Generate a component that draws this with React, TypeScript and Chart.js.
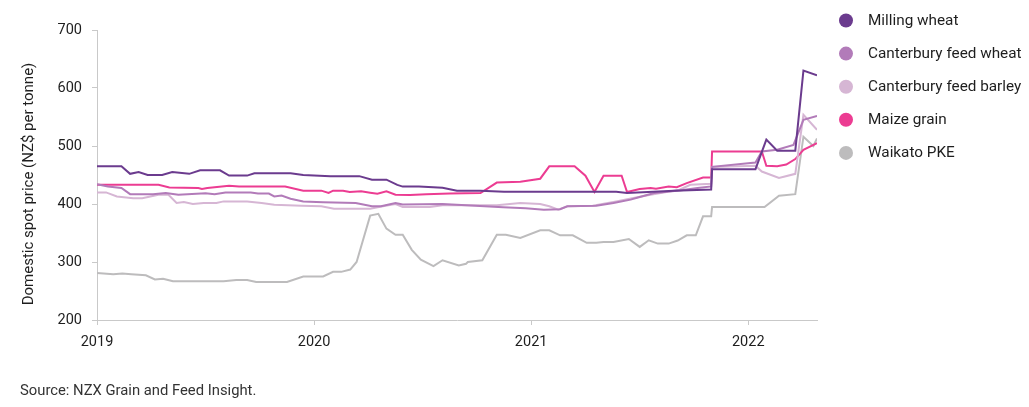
import { useEffect, useRef } from "react";
import { Chart, registerables } from "chart.js";

Chart.register(...registerables);

// x values are months since January 2019
const xTickMonths = [0, 12, 24, 36];
const xTickLabels = ["2019", "2020", "2021", "2022"];
const yTickValues = [200, 300, 400, 500, 600, 700];

const seriesNames = [
  "Milling wheat",
  "Canterbury feed wheat",
  "Canterbury feed barley",
  "Maize grain",
  "Waikato PKE",
];
const seriesColors = ["#6b3b8e", "#b27bb9", "#d6b6d4", "#ec3c92", "#bdbcbd"];

const millingWheatMonths = [0, 1.35, 1.83, 2.3, 2.8, 3.6, 4.16, 5.1, 5.7, 6.8, 7.3, 8.3, 8.7, 10.7, 11.4, 12.9, 14.5, 15.2, 16.0, 16.6, 16.9, 17.8, 19.1, 19.9, 21.2, 22.5, 28.7, 29.3, 31.9, 33.95, 34.0, 36.4, 37.0, 37.6, 38.6, 39.05, 39.8];
const millingWheatPrices = [465, 465, 452, 455, 450, 450, 455, 452, 458, 458, 449, 449, 453, 453, 450, 448, 448, 442, 442, 433, 430, 430, 428, 423, 423, 421, 421, 419, 423, 425, 460, 460, 511, 492, 492, 630, 622];

const feedWheatMonths = [0, 0.6, 1.35, 1.83, 3.1, 3.8, 4.5, 6.0, 6.5, 7.1, 8.5, 8.9, 9.5, 9.8, 10.2, 10.7, 11.4, 12.5, 14.3, 15.2, 15.7, 16.5, 16.9, 19.1, 20.4, 22.45, 23.7, 24.7, 25.6, 26.0, 27.6, 28.55, 29.5, 30.0, 30.8, 32.2, 33.2, 33.95, 34.0, 36.4, 36.75, 37.6, 38.5, 39.05, 39.8];
const feedWheatPrices = [434, 430, 427.5, 417, 417, 419, 416, 418.4, 417, 420, 420, 418, 418, 413, 414.5, 409, 404.5, 403, 401.7, 396, 396, 401.7, 399, 400, 398, 394.3, 392.6, 390.2, 391, 396, 397, 401.7, 407.5, 412, 419, 423.4, 427.5, 430.4, 464, 471.6, 490.6, 493.5, 502, 545, 552];

const feedBarleyMonths = [0, 0.5, 1.1, 2.0, 2.5, 3.4, 3.95, 4.4, 4.8, 5.3, 5.9, 6.6, 7.0, 8.3, 9.1, 9.8, 11.3, 12.4, 13.1, 15.1, 15.8, 16.5, 16.9, 18.4, 19.1, 22.1, 23.4, 24.5, 25.0, 25.5, 26.0, 27.4, 28.7, 29.65, 30.6, 32.2, 32.8, 33.95, 34.0, 36.4, 36.75, 37.7, 38.6, 39.05, 39.8];
const feedBarleyPrices = [420, 420, 413, 410, 410, 416, 416, 401.7, 403.5, 400, 401.7, 401.7, 404.5, 404.5, 401.7, 398.8, 397, 396, 392, 392, 396, 400, 395, 395, 398, 398, 401.7, 400, 396, 390.2, 396, 397, 404.5, 410.2, 416, 424.6, 433, 434.8, 464, 466, 456, 444.8, 452, 553.7, 528];

const maizeMonths = [0, 3.4, 4.0, 5.6, 5.8, 6.1, 7.3, 7.85, 10.4, 11.4, 12.4, 12.8, 13.05, 13.6, 13.97, 14.6, 15.1, 15.5, 16.0, 16.5, 17.3, 18.2, 19.5, 21.2, 22.1, 23.4, 24.5, 25.0, 26.4, 27.0, 27.5, 28.0, 29.0, 29.3, 30.0, 30.6, 30.9, 31.6, 32.05, 32.6, 33.5, 33.95, 34.0, 36.75, 37.0, 37.6, 38.1, 38.6, 39.05, 39.8];
const maizePrices = [433, 433, 428.6, 427.5, 426, 427.5, 431.5, 430, 430, 423, 423, 419, 423, 423, 420.6, 421.8, 419.5, 417.7, 421.8, 416, 415.4, 416.6, 418.3, 419, 437, 438.5, 443.6, 465, 465, 448.7, 420.6, 448.7, 448.7, 420.6, 425.8, 427.5, 426.4, 430, 429, 436, 445.8, 445.8, 490.6, 490.6, 466, 465, 468, 477.5, 493.5, 505];

const pkeMonths = [0, 0.9, 1.4, 1.9, 2.7, 3.2, 3.65, 4.2, 7.0, 7.7, 8.3, 8.8, 10.5, 11.4, 12.5, 13.05, 13.5, 14.0, 14.35, 15.1, 15.55, 16.0, 16.5, 16.9, 17.4, 17.9, 18.6, 19.1, 20.0, 20.4, 20.5, 21.3, 22.1, 22.6, 23.4, 24.5, 25.0, 25.6, 26.3, 27.07, 27.6, 28.0, 28.55, 29.4, 30.0, 30.5, 31.0, 31.6, 32.1, 32.6, 33.1, 33.5, 33.95, 34.0, 36.9, 37.7, 38.6, 39.05, 39.6, 39.8];
const pkePrices = [281, 279, 280, 279, 277, 270, 271, 267, 267, 269, 269, 265.5, 265.5, 275, 275, 283, 283, 287, 300, 380, 383, 357.5, 347, 347, 321, 304, 293, 303, 294, 297, 300, 303, 347, 347, 341.5, 354.6, 354.6, 346, 346, 333, 333, 334.4, 334.4, 339.7, 326, 337.4, 331.7, 331.7, 337, 346, 346, 378.7, 378.7, 394.8, 394.8, 414.3, 417, 516, 500, 513];

const yAxisTitle = "Domestic spot price (NZ$ per tonne)";
const sourceNote = "Source: NZX Grain and Feed Insight.";

const FONT = "Roboto, 'Noto Sans', sans-serif";

function toPoints(xs: number[], ys: number[]) {
  return xs.map((x, i) => ({ x, y: ys[i] }));
}

const extrasPlugin = {
  id: "extras",
  afterDraw(chart: any) {
    const ctx = chart.ctx as CanvasRenderingContext2D;
    ctx.save();
    // legend
    ctx.font = `15.3px ${FONT}`;
    ctx.textBaseline = "middle";
    ctx.textAlign = "left";
    chart.data.datasets.forEach((ds: any, i: number) => {
      const cy = 20.5 + i * 33.1;
      ctx.beginPath();
      ctx.fillStyle = ds.borderColor;
      ctx.arc(846, cy, 7, 0, Math.PI * 2);
      ctx.fill();
      ctx.fillStyle = "#1e1e1e";
      ctx.fillText(ds.label, 868, cy + 0.5);
    });
    // y axis title
    ctx.save();
    ctx.translate(29, 184);
    ctx.rotate(-Math.PI / 2);
    ctx.textAlign = "center";
    ctx.fillStyle = "#1e1e1e";
    ctx.font = `15px ${FONT}`;
    ctx.fillText(yAxisTitle, 0, 0);
    ctx.restore();
    // source
    ctx.textAlign = "left";
    ctx.fillStyle = "#333";
    ctx.font = `14.8px ${FONT}`;
    ctx.fillText(sourceNote, 20, 391);
    ctx.restore();
  },
};

export default function App() {
  const ref = useRef<HTMLCanvasElement>(null);
  useEffect(() => {
    document.body.style.margin = "0";
    const series = [
      toPoints(millingWheatMonths, millingWheatPrices),
      toPoints(feedWheatMonths, feedWheatPrices),
      toPoints(feedBarleyMonths, feedBarleyPrices),
      toPoints(maizeMonths, maizePrices),
      toPoints(pkeMonths, pkePrices),
    ];
    const chart = new Chart(ref.current!, {
      type: "line",
      data: {
        datasets: series.map((data, i) => ({
          label: seriesNames[i],
          data,
          borderColor: seriesColors[i],
          backgroundColor: seriesColors[i],
          borderWidth: 2,
          pointRadius: 0,
          tension: 0,
          fill: false,
        })),
      },
      options: {
        animation: false,
        responsive: true,
        maintainAspectRatio: false,
        layout: { padding: { top: 30, right: 212, left: 0, bottom: 0 } },
        plugins: { legend: { display: false }, tooltip: { enabled: false } },
        font: { family: FONT },
        scales: {
          x: {
            type: "linear",
            min: 0,
            max: 39.8,
            afterBuildTicks: (scale: any) => {
              scale.ticks = xTickMonths.map((v) => ({ value: v }));
            },
            afterFit: (scale: any) => {
              scale.height = 87;
            },
            ticks: {
              callback: (_v: any, i: number) => xTickLabels[i],
              color: "#1e1e1e",
              font: { family: FONT, size: 14.5 },
              padding: 9,
              maxRotation: 0,
            },
            grid: { drawOnChartArea: false, drawTicks: true, tickLength: 5, color: "#c9c9c9" },
            border: { display: true, color: "#c9c9c9", width: 1 },
          },
          y: {
            type: "linear",
            min: 200,
            max: 700,
            afterBuildTicks: (scale: any) => {
              scale.ticks = yTickValues.map((v) => ({ value: v }));
            },
            afterFit: (scale: any) => {
              scale.width = 97;
            },
            ticks: {
              color: "#1e1e1e",
              font: { family: FONT, size: 14.5 },
              padding: 10,
            },
            grid: { drawOnChartArea: false, drawTicks: true, tickLength: 5, color: "#c9c9c9" },
            border: { display: true, color: "#c9c9c9", width: 1 },
          },
        },
      },
      plugins: [extrasPlugin],
    } as any);
    return () => chart.destroy();
  }, []);
  return (
    <div style={{ width: 1029, height: 407, position: "relative" }}>
      <canvas ref={ref} />
    </div>
  );
}
